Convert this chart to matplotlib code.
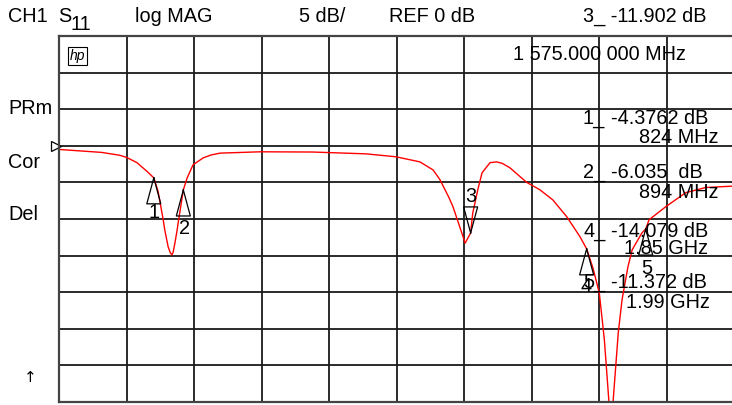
import numpy as np
import matplotlib.pyplot as plt

plt.rcParams['font.family'] = ['Liberation Sans', 'DejaVu Sans']

# trace: frequency (MHz) and S11 (dB)
freq = [600, 700, 744, 760, 784, 808, 824, 834, 846, 850, 858, 863, 867, 870, 874,
        879, 884, 894, 903, 917, 941, 960, 981, 1076, 1200, 1327, 1398, 1455, 1486, 1502,
        1523, 1533, 1550, 1562, 1575, 1580, 1592, 1602, 1621, 1637, 1650, 1668, 1708, 1739,
        1770, 1803, 1834, 1850, 1865, 1880, 1892, 1903, 1908, 1913, 1925, 1934, 1948,
        1958, 1981, 1990, 1998, 2038, 2085, 2132, 2200]
s11 = [-0.5, -0.9, -1.3, -1.6, -2.3, -3.5, -4.38, -6.2, -10.0, -11.5, -13.8, -14.6, -14.9,
       -14.5, -13.3, -11.6, -9.7, -6.035, -4.4, -2.6, -1.65, -1.25, -1.0, -0.82, -0.85, -1.1,
       -1.5, -2.2, -3.3, -4.6, -7.0, -8.3, -11.2, -13.3, -11.902, -9.2, -6.0, -3.7, -2.3,
       -2.2, -2.4, -3.0, -5.0, -6.0, -7.4, -9.7, -12.4, -14.079, -16.7, -20.1, -26.5, -35.1,
       -40.0, -34.7, -25.5, -21.0, -16.5, -14.2, -11.9, -11.372, -10.1, -8.3, -6.4,
       -5.7, -5.5]

# markers
mk_id = ['1', '2', '3', '4', '5']
mk_freq = [824, 894, 1575, 1850, 1990]
mk_db = [-4.3762, -6.035, -11.902, -14.079, -11.372]
mk_db_txt = ['-4.3762 dB', '-6.035  dB', '-11.902 dB', '-14.079 dB', '-11.372 dB']
mk_f_txt = ['824 MHz', '894 MHz', '1 575.000 000 MHz', '1.85 GHz', '1.99 GHz']

W, H = 732, 405
fig = plt.figure(figsize=(W / 100, H / 100), dpi=100)
ax = fig.add_axes([59.3 / W, 1 - 402 / H, 675 / W, 366 / H])
ax.set_xlim(600, 2200)
ax.set_ylim(-35, 15)
ax.set_xticks(np.arange(600, 2201, 160))
ax.set_yticks(np.arange(-35, 16, 5))
ax.grid(True, color='#1a1a1a', lw=1.3)
ax.tick_params(length=0, labelbottom=False, labelleft=False)
for s in ax.spines.values():
    s.set_color('#444444')
    s.set_linewidth(1.6)

ax.plot(freq, s11, color='red', lw=1)

# reference position arrow
ax.plot([592], [0], marker='>', ms=7, mfc='white', mec='black', mew=0.9, clip_on=False)

# marker triangles (tip on the trace)
tw = 7 * 160 / 67.5     # half width in MHz
th = 26 * 5 / 36.6      # height in dB
for i in range(5):
    f, d = mk_freq[i], mk_db[i]
    if mk_id[i] == '3':
        ys = [d, d + th, d + th, d]
    else:
        ys = [d, d - th, d - th, d]
    ax.plot([f, f - tw, f + tw, f], ys, color='black', lw=0.9)


def px(x, y):
    return x / W, 1 - y / H


fs = 14.3
def t(x, y, s, **kw):
    kw.setdefault('fontsize', fs)
    fig.text(*px(x, y), s, va='center', ha=kw.pop('ha', 'left'), **kw)


# header
t(8, 16, 'CH1')
t(58, 16, 'S')
t(71, 25, '11')
t(135, 16, 'log MAG')
t(299, 16, '5 dB/')
t(389, 16, 'REF 0 dB')
t(583, 16, '3_ -11.902 dB')
t(513, 55, mk_f_txt[2])

# hp logo
fig.text(*px(77.5, 56), 'hp', fontsize=10, style='italic', ha='center', va='center',
         bbox=dict(boxstyle='square,pad=0.12', fc='white', ec='black', lw=0.8))

# left side labels
t(8, 108, 'PRm')
t(8, 162, 'Cor')
t(8, 215, 'Del')
t(24, 377, '\u2191', fontsize=11, family=['DejaVu Sans'])

# marker list
rows = [(0, 118, 137, 639), (1, 173, 192, 639), (3, 231, 248, 624), (4, 283, 303, 626)]
for i, yd, yf, xf in rows:
    t(583, yd, mk_id[i] + '_')
    t(611, yd, mk_db_txt[i])
    t(xf, yf, mk_f_txt[i])

# marker labels on the trace
t(154, 212, '1', ha='center')
t(185, 228, '2', ha='center')
t(471, 196, '3', ha='center')
t(586, 286, '4', ha='center')
t(647, 268, '5', ha='center')

fig.savefig('out.png', dpi=100)
